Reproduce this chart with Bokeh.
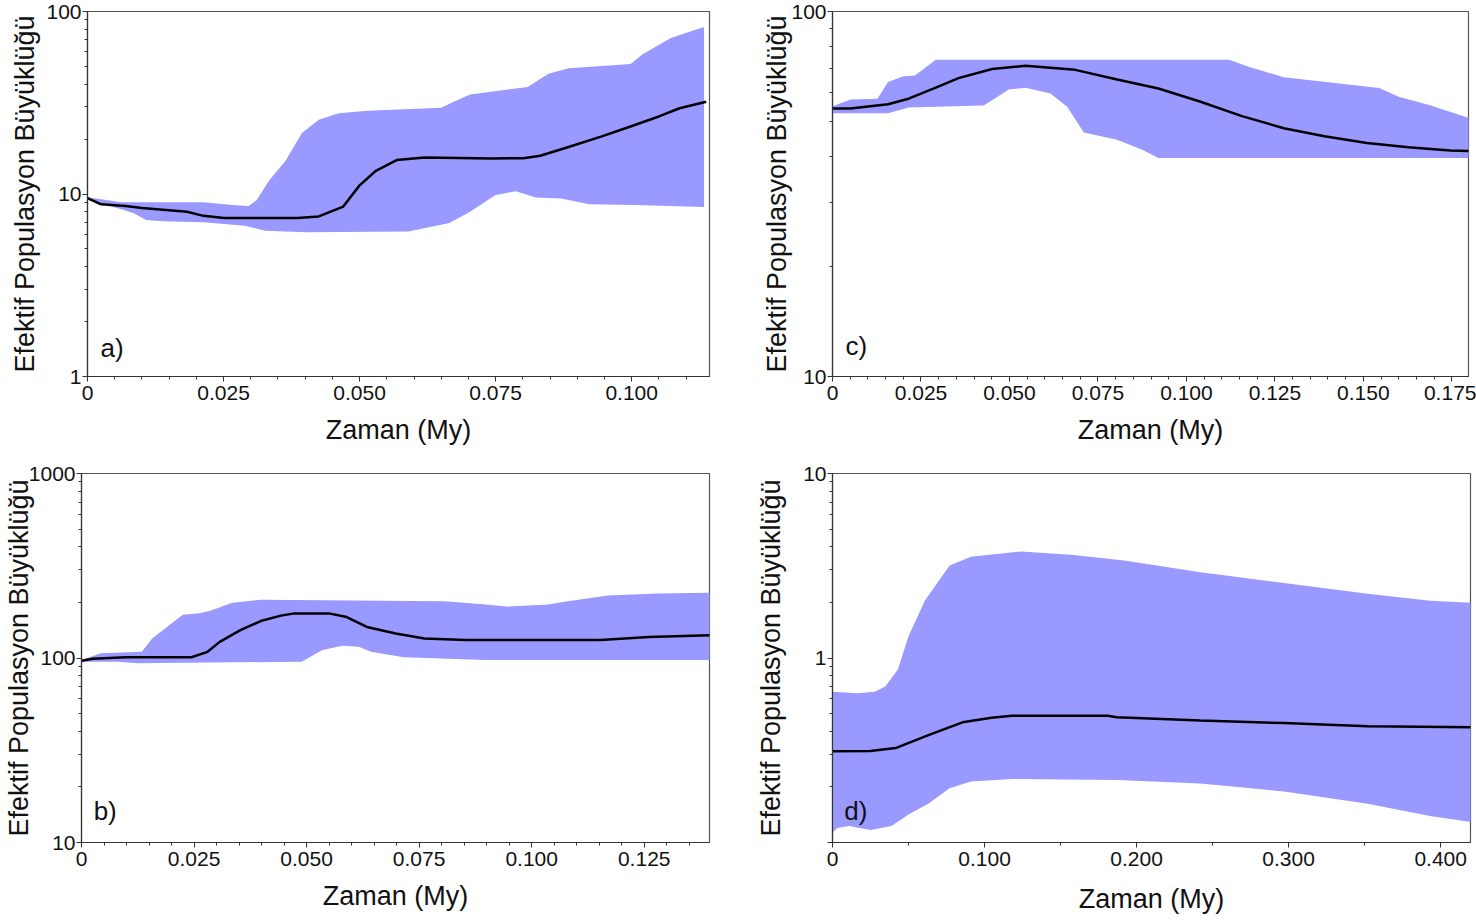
from bokeh.plotting import figure
from bokeh.models import FixedTicker, Label
from bokeh.layouts import column, row
from bokeh.embed import file_html
from bokeh.resources import INLINE

FONT = "Liberation Sans"
FILL = "#9999ff"
XLABEL = "Zaman (My)"
YLABEL = "Efektif Populasyon Büyüklüğü"

# ---- panel a ----
a_up_x = [0, 0.0062, 0.0213, 0.0266, 0.0296, 0.0311, 0.0334, 0.0364, 0.0394, 0.0425, 0.0462, 0.0515, 0.065, 0.0673, 0.0703, 0.0809, 0.0847, 0.0884, 0.0998, 0.102, 0.1073, 0.1133]
a_up_y = [9.6, 9.0, 9.0, 8.7, 8.6, 9.26, 11.9, 15.2, 21.6, 25.5, 27.7, 28.6, 29.7, 32.0, 35.1, 38.6, 45.6, 48.9, 51.6, 58.3, 71.8, 82.3]
a_lo_x = [0, 0.0062, 0.0085, 0.0108, 0.0138, 0.0213, 0.0289, 0.0327, 0.0402, 0.059, 0.0665, 0.0703, 0.0749, 0.0787, 0.0824, 0.087, 0.0922, 0.1006, 0.1073, 0.1133]
a_lo_y = [9.3, 8.25, 7.85, 7.2, 7.08, 7.0, 6.7, 6.28, 6.18, 6.24, 6.93, 8.0, 9.85, 10.35, 9.57, 9.46, 8.78, 8.7, 8.6, 8.5]
a_med_x = [0, 0.0025, 0.007, 0.01, 0.0183, 0.0213, 0.0251, 0.0386, 0.0425, 0.047, 0.05, 0.053, 0.0568, 0.062, 0.0741, 0.0801, 0.0832, 0.0884, 0.0945, 0.099, 0.105, 0.1088, 0.1137]
a_med_y = [9.5, 8.78, 8.6, 8.38, 8.0, 7.59, 7.38, 7.38, 7.54, 8.53, 11.15, 13.4, 15.35, 15.85, 15.67, 15.7, 16.2, 18.1, 20.7, 23.0, 26.6, 29.5, 32.0]
a_xticks = [0, 0.025, 0.05, 0.075, 0.1]
a_xlabels = ["0", "0.025", "0.050", "0.075", "0.100"]
a_yticks = [1, 10, 100]
a_ylabels = ["1", "10", "100"]

# ---- panel c ----
c_up_x = [0, 0.0051, 0.0127, 0.0157, 0.0198, 0.0233, 0.0292, 0.112, 0.118, 0.1275, 0.1545, 0.160, 0.1686, 0.18]
c_up_y = [55.0, 57.4, 57.7, 64.1, 66.4, 66.8, 73.8, 73.8, 70.4, 66.1, 61.7, 58.4, 55.4, 51.0]
c_lo_x = [0, 0.0157, 0.0215, 0.0427, 0.0451, 0.0498, 0.0545, 0.0616, 0.0663, 0.071, 0.0804, 0.0875, 0.0921, 0.18]
c_lo_y = [52.6, 52.6, 54.6, 55.3, 57.1, 61.1, 61.8, 59.6, 54.8, 46.6, 44.5, 41.8, 39.7, 39.7]
c_med_x = [0, 0.005, 0.0157, 0.0215, 0.0285, 0.0356, 0.0451, 0.0545, 0.0686, 0.0804, 0.0921, 0.104, 0.1157, 0.1275, 0.139, 0.151, 0.1627, 0.1746, 0.18]
c_med_y = [54.2, 54.2, 55.7, 57.7, 61.5, 65.7, 69.6, 71.0, 69.2, 65.1, 61.5, 56.6, 51.7, 47.9, 45.5, 43.6, 42.5, 41.6, 41.5]
c_xticks = [0, 0.025, 0.05, 0.075, 0.1, 0.125, 0.15, 0.175]
c_xlabels = ["0", "0.025", "0.050", "0.075", "0.100", "0.125", "0.150", "0.175"]
c_yticks = [10, 100]
c_ylabels = ["10", "100"]

# ---- panel b ----
b_up_x = [0, 0.0043, 0.0134, 0.0157, 0.0225, 0.0262, 0.0288, 0.0335, 0.0398, 0.0807, 0.0898, 0.0944, 0.1036, 0.108, 0.117, 0.128, 0.14]
b_up_y = [97.5, 106, 108, 127.6, 171.7, 175, 181, 199, 207, 203, 195, 190, 195, 203, 218, 224, 226]
b_lo_x = [0, 0.008, 0.0125, 0.0489, 0.0535, 0.058, 0.0616, 0.0643, 0.0716, 0.0898, 0.14]
b_lo_y = [95.5, 95.5, 93.7, 95.5, 110.4, 116.4, 115, 108, 101, 97.5, 97.5]
b_med_x = [0, 0.0025, 0.0098, 0.0244, 0.028, 0.0307, 0.0353, 0.0398, 0.0443, 0.047, 0.0552, 0.0589, 0.0634, 0.0698, 0.0762, 0.0853, 0.1153, 0.126, 0.14]
b_med_y = [96.7, 99, 100.9, 100.9, 108, 122.3, 141.5, 158.6, 169.7, 174, 174, 166.8, 147.3, 135.8, 127.6, 125, 125, 130, 132.9]
b_xticks = [0, 0.025, 0.05, 0.075, 0.1, 0.125]
b_xlabels = ["0", "0.025", "0.050", "0.075", "0.100", "0.125"]
b_yticks = [10, 100, 1000]
b_ylabels = ["10", "100", "1000"]

# ---- panel d ----
d_up_x = [0, 0.0167, 0.0278, 0.0347, 0.043, 0.050, 0.0608, 0.077, 0.091, 0.124, 0.159, 0.193, 0.242, 0.297, 0.352, 0.393, 0.42]
d_up_y = [0.657, 0.644, 0.657, 0.70, 0.865, 1.31, 2.05, 3.17, 3.54, 3.78, 3.62, 3.37, 2.92, 2.55, 2.23, 2.04, 1.99]
d_lo_x = [0, 0.003, 0.011, 0.025, 0.0388, 0.050, 0.0635, 0.077, 0.091, 0.118, 0.187, 0.242, 0.297, 0.352, 0.393, 0.42]
d_lo_y = [0.113, 0.12, 0.123, 0.117, 0.123, 0.142, 0.163, 0.197, 0.214, 0.221, 0.218, 0.209, 0.189, 0.162, 0.139, 0.129]
d_med_x = [0, 0.0248, 0.0415, 0.0635, 0.0855, 0.1046, 0.118, 0.181, 0.187, 0.242, 0.297, 0.352, 0.42]
d_med_y = [0.312, 0.313, 0.325, 0.383, 0.448, 0.475, 0.487, 0.487, 0.477, 0.458, 0.444, 0.427, 0.421]
d_xticks = [0, 0.1, 0.2, 0.3, 0.4]
d_xlabels = ["0", "0.100", "0.200", "0.300", "0.400"]
d_yticks = [0.1, 1, 10]
d_ylabels = ["", "1", "10"]


def log_minors(lo_exp, hi_exp):
    out = []
    for e in range(lo_exp, hi_exp):
        for m in range(2, 10):
            out.append(m * 10.0 ** e)
    return out


def lin_minors(xmax, step):
    out = []
    k = 1
    while k * step < xmax:
        out.append(round(k * step, 6))
        k += 1
    return out


def panel(w, h, borders, xr, yr, up_x, up_y, lo_x, lo_y, med_x, med_y,
          xticks, xlabels, xminor, yticks, ylabels, yminor, tag, tag_xy,
          xlab_standoff, ylab_standoff):
    left, right, top, bottom = borders
    p = figure(width=w, height=h, x_range=xr, y_range=yr, y_axis_type="log",
               output_backend="svg", toolbar_location=None,
               min_border_left=left, min_border_right=right,
               min_border_top=top, min_border_bottom=bottom)
    p.xgrid.visible = False
    p.ygrid.visible = False
    p.outline_line_color = "#555555"
    p.outline_line_width = 1.2
    p.background_fill_color = "white"
    p.border_fill_color = "white"

    px = list(up_x) + list(reversed(lo_x))
    py = list(up_y) + list(reversed(lo_y))
    p.patch(px, py, fill_color=FILL, line_color=None)
    p.line(med_x, med_y, line_color="black", line_width=2.5)

    p.xaxis.ticker = FixedTicker(ticks=xticks, minor_ticks=xminor)
    p.xaxis.major_label_overrides = {t: l for t, l in zip(xticks, xlabels)}
    p.yaxis.ticker = FixedTicker(ticks=yticks, minor_ticks=yminor)
    p.yaxis.major_label_overrides = {t: l for t, l in zip(yticks, ylabels)}

    for ax in (p.xaxis[0], p.yaxis[0]):
        ax.axis_line_color = "#333333"
        ax.axis_line_width = 1.2
        ax.major_tick_line_color = "#333333"
        ax.minor_tick_line_color = "#333333"
        ax.major_tick_in = 0
        ax.major_tick_out = 5
        ax.minor_tick_in = 0
        ax.minor_tick_out = 3
        ax.major_label_text_font = FONT
        ax.major_label_text_font_size = "21px"
        ax.major_label_text_color = "#111111"
        ax.axis_label_text_font = FONT
        ax.axis_label_text_font_size = "27px"
        ax.axis_label_text_font_style = "normal"
        ax.axis_label_text_color = "#111111"
    p.xaxis.major_label_standoff = 4
    p.yaxis.major_label_standoff = 1
    p.xaxis.axis_label = XLABEL
    p.yaxis.axis_label = YLABEL
    p.xaxis.axis_label_standoff = xlab_standoff
    p.yaxis.axis_label_standoff = ylab_standoff

    p.add_layout(Label(x=tag_xy[0], y=tag_xy[1], text=tag, text_font=FONT,
                       text_font_size="26px", text_color="#111111",
                       text_baseline="bottom", text_align="left"))
    return p


pa = panel(740, 455, (87, 31, 11, 79), (0, 0.1143), (1, 100),
           a_up_x, a_up_y, a_lo_x, a_lo_y, a_med_x, a_med_y,
           a_xticks, a_xlabels, lin_minors(0.1143, 0.005),
           a_yticks, a_ylabels, log_minors(0, 2), "a)", (0.0024, 1.19), 12, 3)
pc = panel(736, 455, (92, 8, 11, 79), (0, 0.1797), (10, 100),
           c_up_x, c_up_y, c_lo_x, c_lo_y, c_med_x, c_med_y,
           c_xticks, c_xlabels, lin_minors(0.1797, 0.005),
           c_yticks, c_ylabels, log_minors(1, 2), "c)", (0.0037, 11.05), 12, -4)
pb = panel(740, 466, (80, 31, 18, 76), (0, 0.1395), (10, 1000),
           b_up_x, b_up_y, b_lo_x, b_lo_y, b_med_x, b_med_y,
           b_xticks, b_xlabels, lin_minors(0.1395, 0.005),
           b_yticks, b_ylabels, log_minors(1, 3), "b)", (0.0027, 12.3), 12, -8)
pd_ = panel(736, 466, (92, 6, 14, 79), (0, 0.4196), (0.1, 10),
            d_up_x, d_up_y, d_lo_x, d_lo_y, d_med_x, d_med_y,
            d_xticks, d_xlabels, lin_minors(0.4196, 0.05),
            d_yticks, d_ylabels, log_minors(-1, 1), "d)", (0.0078, 0.123), 15, 14)

layout = column(row(pa, pc, spacing=0), row(pb, pd_, spacing=0), spacing=0)
open("out.html", "w").write(file_html(layout, INLINE))
